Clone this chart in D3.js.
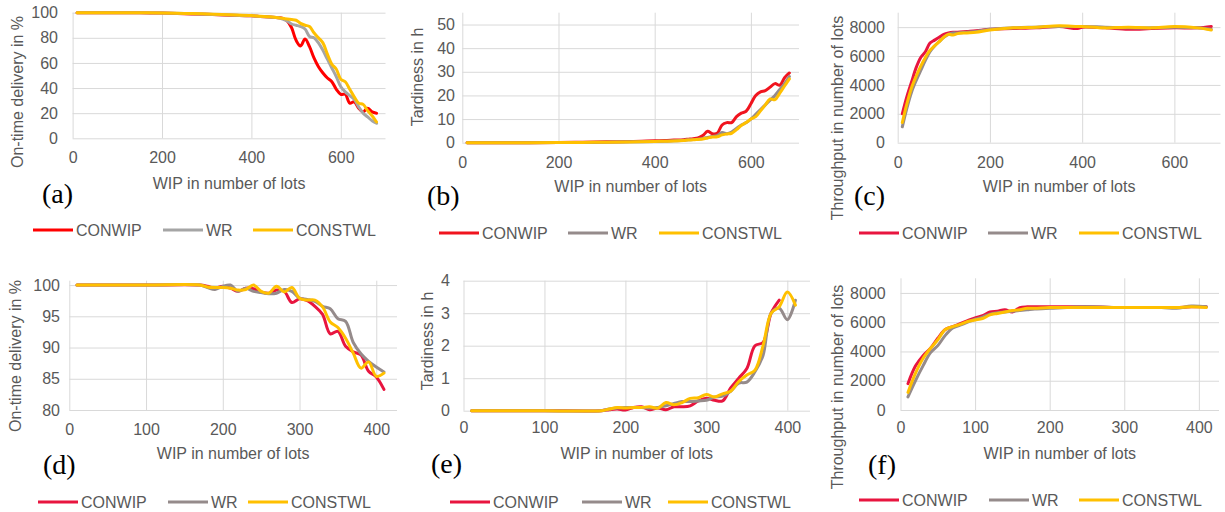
<!DOCTYPE html>
<html>
<head>
<meta charset="utf-8">
<script src="https://cdn.jsdelivr.net/npm/d3@7"></script>
<style>
  html, body { margin: 0; padding: 0; background: #ffffff; }
  svg { display: block; }
</style>
</head>
<body>
<svg id="chart" width="1225" height="512"></svg>
<script>
// ---------------- DATA ----------------
const seriesNames = ["CONWIP", "WR", "CONSTWL"];
const xAxisTitle = "WIP in number of lots";

// (a) On-time delivery, scenario 1
const xA = [10,50,100,150,200,250,300,350,400,420,440,460,470,480,490,500,510,520,530,540,550,560,570,580,590,600,610,620,630,640,650,660,670,680];
const aCONWIP  = [100,100,100,99.9,99.7,99.2,98.7,98,97.5,97,96.5,96,95.5,93.5,88,78,73.5,79,73,64,57,52,48,45,39,35,35,28,29,24,21,24,21,20];
const aWR      = [100,100,100,99.9,99.7,99.3,98.8,98.2,97.5,97,96.5,96,95,93.5,91,90,89,87,81,80,76,70,63,56,49,41,37,34,31,25,20,17,14,12];
const aCONSTWL = [100,100,100,99.9,99.8,99.4,99,98.4,97.8,97.2,96.7,96,95.5,95,94.5,94,91.5,90,89,84,80,76,67,59,55,47,45,39,33,28,27,22,18,13];

// (b) Tardiness, scenario 1
const xB = [10,100,200,250,300,350,400,420,440,460,470,480,490,500,510,520,530,540,550,560,570,580,590,600,610,620,630,640,650,660,670,680];
const bCONWIP  = [0,0,0.1,0.2,0.4,0.5,0.8,0.9,1.1,1.3,1.5,1.7,2,3,4.8,3.8,4,7.5,8.5,8.5,11,12.5,13.3,16.5,20,21.5,22,23.5,25,24.3,27.5,29.5];
const bWR      = [0,0,0.05,0.1,0.2,0.35,0.5,0.6,0.8,1,1.2,1.3,1.5,1.8,2.2,2.6,3,4.3,3.8,4.5,6,7.5,8.5,10,12,14,16,18,20,22.5,25,28];
const bCONSTWL = [0,0,0.05,0.1,0.2,0.3,0.5,0.6,0.7,0.9,1.1,1.2,1.4,1.6,2,2.4,2.5,3.3,3.7,4,5.5,7.3,8.5,10,11,13.5,16,18.5,18.2,21,24,27];

// (c) Throughput, scenario 1
const xC = [10,20,30,40,50,60,70,80,90,100,110,120,130,150,170,200,250,300,350,390,400,450,500,550,600,650,680];
const cCONWIP  = [2000,3200,4200,5200,5900,6300,6900,7100,7300,7500,7600,7650,7650,7700,7750,7850,7900,7950,8050,7900,8000,7950,7850,7900,7950,7950,8050];
const cWR      = [1100,2400,3500,4300,5000,5700,6300,6700,7000,7300,7500,7600,7600,7650,7700,7850,7950,8000,8050,8050,8050,8000,7950,7950,8000,7950,7850];
const cCONSTWL = [1400,2700,3800,4600,5300,5900,6400,6700,7000,7300,7500,7450,7550,7600,7650,7800,7950,8000,8100,8050,8050,7950,8000,7950,8050,7950,7800];

// (d) On-time delivery, scenario 2
const xD = [10,100,170,180,190,200,210,220,230,240,250,260,270,280,290,300,310,320,330,340,350,360,370,380,390,400,410];
const dCONWIP  = [100,100,100,99.8,99.5,99.8,99.5,99,99.5,99.4,98.9,98.7,99.2,99,97.2,97.8,97.5,96.6,95.3,92.2,92.6,90.2,89.3,88.8,86.2,85.3,83.3];
const dWR      = [100,100,100,99.6,99.3,99.8,100,99,99.5,99,98.8,98.6,98.7,99.3,99,97.9,97.7,97.4,96.6,96.2,94.6,94.2,90.8,89,87.8,86.9,86.1];
const dCONSTWL = [100,100,100,99.7,99.6,99.6,99.5,99.2,99.3,100,99,98.7,99.8,98.9,99.6,97.9,97.6,97.6,96.5,94.1,93.2,91.5,89.1,86.7,87.7,85.4,85.9];

// (e) Tardiness, scenario 2
const xE = [10,100,170,180,190,200,210,220,230,240,250,260,270,280,290,300,310,320,330,340,350,360,370,380,390,400,410];
const eCONWIP  = [0,0,0,0.03,0.05,0.02,0.1,0.12,0.03,0.08,0.03,0.12,0.12,0.15,0.3,0.38,0.32,0.3,0.7,1.0,1.3,2.0,2.1,3.0,3.4,null,null];
const eWR      = [0,0,0,0.05,0.08,0.1,0.1,0.1,0.08,0.1,0.15,0.22,0.28,0.28,0.3,0.32,0.42,0.45,0.6,0.85,0.88,1.2,1.7,3.0,3.15,2.8,3.4];
const eCONSTWL = [0,0,0,0.05,0.1,0.08,0.1,0.1,0.12,0.08,0.25,0.18,0.25,0.38,0.4,0.5,0.42,0.52,0.6,0.9,1.1,1.25,2.0,3.0,3.2,3.65,3.25];

// (f) Throughput, scenario 2
const xF = [10,20,30,40,50,60,70,80,90,100,110,120,130,140,150,160,170,180,200,250,300,350,370,390,410];
const fCONWIP  = [1800,3000,3700,4200,4900,5500,5700,5900,6100,6300,6450,6700,6750,6850,6700,7000,7050,7050,7050,7050,7000,7000,7000,7050,7050];
const fWR      = [900,2000,3000,3900,4400,5100,5600,5800,6000,6200,6350,6550,6650,6700,6750,6800,6850,6900,6950,7050,7000,7000,6950,7100,7050];
const fCONSTWL = [1200,2500,3500,4200,4800,5500,5700,5850,6050,6150,6250,6500,6600,6700,6800,6850,6950,6950,7000,7000,7000,7000,7000,7050,7000];

// tick values
const xTicks1 = [0,200,400,600];
const xTicks2 = [0,100,200,300,400];
const yTicksOTD1 = [0,20,40,60,80,100];
const yTicksTard1 = [0,10,20,30,40,50];
const yTicksThr = [0,2000,4000,6000,8000];
const yTicksOTD2 = [80,85,90,95,100];
const yTicksTard2 = [0,1,2,3,4];

// ---------------- LAYOUT / STYLE ----------------
const colsA = ["#FF0000", "#A5A5A5", "#FFC000"];
const colsB = ["#F0141E", "#958B8B", "#FFC000"];
const colsC = ["#E8153F", "#958B8B", "#FFC000"];

const panels = [
  { tag:"(a)", xs:xA, ys:[aCONWIP,aWR,aCONSTWL], cols:colsA, xd:[0,700], yd:[0,100], xt:xTicks1, yt:yTicksOTD1,
    box:[72.6,385.5,12.7,138.3], yPad:14.6, xPad:13.3, xTitleBase:189, yTitle:"On-time delivery in %", yTitleX:17, yTitleY:92,
    tagX:42, tagBase:203, legY:230, legX:[33,163,253] },
  { tag:"(b)", xs:xB, ys:[bCONWIP,bWR,bCONSTWL], cols:colsB, xd:[0,700], yd:[0,55], xt:xTicks1, yt:yTicksTard1,
    box:[462.3,799,12.7,142.7], yPad:7.3, xPad:13.9, xTitleBase:192, yTitle:"Tardiness in h", yTitleX:417, yTitleY:77,
    tagX:427, tagBase:205, legY:233, legX:[439,568,659] },
  { tag:"(c)", xs:xC, ys:[cCONWIP,cWR,cCONSTWL], cols:colsC, xd:[0,700], yd:[0,9000], xt:xTicks1, yt:yTicksThr,
    box:[897.7,1220.5,12.7,142.7], yPad:12.7, xPad:13.9, xTitleBase:192, yTitle:"Throughput in number of lots", yTitleX:837, yTitleY:118,
    tagX:854, tagBase:205, legY:233, legX:[859,988,1079] },
  { tag:"(d)", xs:xD, ys:[dCONWIP,dWR,dCONSTWL], cols:colsC, xd:[0,427], yd:[80,100.7], xt:xTicks2, yt:yTicksOTD2,
    box:[69.3,397,280.7,410], yPad:9.3, xPad:13.6, xTitleBase:459, yTitle:"On-time delivery in %", yTitleX:15, yTitleY:356,
    tagX:43, tagBase:474, legY:502, legX:[38,168,248] },
  { tag:"(e)", xs:xE, ys:[eCONWIP,eWR,eCONSTWL], cols:colsC, xd:[0,428], yd:[0,4], xt:xTicks2, yt:yTicksTard2,
    box:[463.5,810,280.7,410.7], yPad:13.5, xPad:10.9, xTitleBase:459, yTitle:"Tardiness in h", yTitleX:427, yTitleY:341,
    tagX:431, tagBase:473, legY:502, legX:[450,582,668] },
  { tag:"(f)", xs:xF, ys:[fCONWIP,fWR,fCONSTWL], cols:colsC, xd:[0,427], yd:[0,9000], xt:xTicks2, yt:yTicksThr,
    box:[900.5,1219,278.3,410], yPad:14.8, xPad:11.6, xTitleBase:459, yTitle:"Throughput in number of lots", yTitleX:837, yTitleY:387,
    tagX:868, tagBase:474, legY:500, legX:[859,989,1079] }
];

const FONT = "'Liberation Sans', Arial, Helvetica, sans-serif";
const TXT = "#595959";
const GRID = "#D9D9D9";

const svg = d3.select("#chart");

panels.forEach(p => {
  const [x0, x1, y0, y1] = p.box;
  const x = d3.scaleLinear().domain(p.xd).range([x0, x1]);
  const y = d3.scaleLinear().domain(p.yd).range([y1, y0]);
  const g = svg.append("g");

  // y axis with horizontal gridlines
  const ya = g.append("g").attr("transform", `translate(${x0},0)`)
    .call(d3.axisLeft(y).tickValues(p.yt).tickSize(-(x1 - x0)).tickPadding(p.yPad).tickFormat(d3.format("d")));
  ya.select(".domain").remove();
  ya.selectAll("line").attr("stroke", GRID).attr("stroke-width", 1);
  ya.selectAll("text").attr("fill", TXT).style("font-family", FONT).style("font-size", "16px");

  // x axis with vertical gridlines
  const xa = g.append("g").attr("transform", `translate(0,${y1})`)
    .call(d3.axisBottom(x).tickValues(p.xt).tickSize(-(y1 - y0)).tickPadding(p.xPad).tickFormat(d3.format("d")));
  xa.select(".domain").remove();
  xa.selectAll("line").attr("stroke", GRID).attr("stroke-width", 1);
  xa.selectAll("text").attr("fill", TXT).style("font-family", FONT).style("font-size", "16px");

  // series lines
  const line = d3.line()
    .defined(d => d[1] !== null)
    .x(d => x(d[0]))
    .y(d => y(d[1]))
    .curve(d3.curveCatmullRom.alpha(0.5));
  p.ys.forEach((vals, i) => {
    const pts = p.xs.map((xv, k) => [xv, vals[k]]);
    g.append("path")
      .attr("d", line(pts))
      .attr("fill", "none")
      .attr("stroke", p.cols[i])
      .attr("stroke-width", 3)
      .attr("stroke-linejoin", "round")
      .attr("stroke-linecap", "round");
  });

  // axis titles
  g.append("text")
    .attr("x", (x0 + x1) / 2).attr("y", p.xTitleBase)
    .attr("text-anchor", "middle")
    .attr("fill", TXT).style("font-family", FONT).style("font-size", "16px")
    .text(xAxisTitle);
  g.append("text")
    .attr("transform", `translate(${p.yTitleX},${p.yTitleY}) rotate(-90)`)
    .attr("text-anchor", "middle").attr("dominant-baseline", "central")
    .attr("fill", TXT).style("font-family", FONT).style("font-size", "16px")
    .text(p.yTitle);

  // panel tag
  g.append("text")
    .attr("x", p.tagX).attr("y", p.tagBase)
    .attr("fill", "#000").style("font-family", "'Liberation Serif', 'Times New Roman', serif").style("font-size", "28px")
    .text(p.tag);

  // legend
  seriesNames.forEach((name, i) => {
    const lx = p.legX[i];
    g.append("line")
      .attr("x1", lx).attr("x2", lx + 40)
      .attr("y1", p.legY).attr("y2", p.legY)
      .attr("stroke", p.cols[i]).attr("stroke-width", 3);
    g.append("text")
      .attr("x", lx + 43).attr("y", p.legY + 5.8)
      .attr("fill", TXT).style("font-family", FONT).style("font-size", "16px")
      .text(name);
  });
});
</script>
</body>
</html>
